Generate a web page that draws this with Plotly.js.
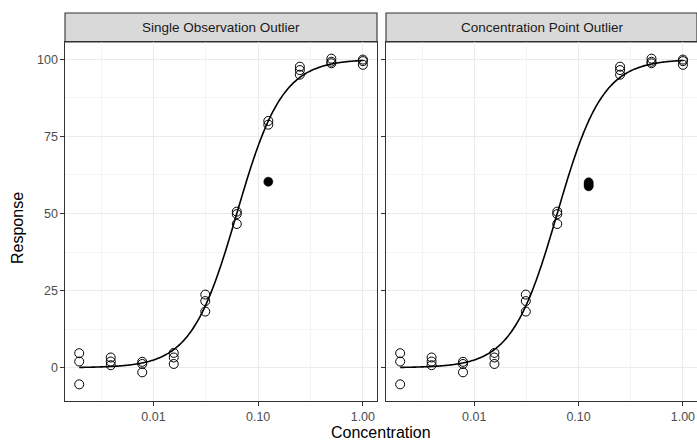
<!DOCTYPE html>
<html>
<head>
<meta charset="utf-8">
<script src="https://cdn.plot.ly/plotly-3.0.1.min.js"></script>
<style>html,body{margin:0;padding:0;background:#fff;} #chart{width:697px;height:441px;}</style>
</head>
<body>
<div id="chart"></div>
<script>
// ---- data ----
const panelTitles = ["Single Observation Outlier", "Concentration Point Outlier"];
const concentrations = [0.001953125, 0.00390625, 0.0078125, 0.015625, 0.03125, 0.0625, 0.125, 0.25, 0.5, 1];

// Single Observation Outlier panel: normal observations
const leftConc = [0.001953125,0.001953125,0.001953125, 0.00390625,0.00390625,0.00390625, 0.0078125,0.0078125,0.0078125, 0.015625,0.015625,0.015625, 0.03125,0.03125,0.03125, 0.0625,0.0625,0.0625, 0.125,0.125, 0.25,0.25,0.25, 0.5,0.5,0.5, 1,1,1];
const leftResp = [4.7,2.0,-5.4, 3.3,2.0,0.8, 1.9,1.2,-1.5, 4.8,3.3,1.2, 23.7,21.6,18.2, 50.6,49.8,46.6, 80.0,78.8, 97.6,96.5,95.0, 100.2,99.2,98.7, 99.9,99.4,98.2];
const leftOutConc = [0.125];
const leftOutResp = [60.3];

// Concentration Point Outlier panel: normal observations
const rightConc = [0.001953125,0.001953125,0.001953125, 0.00390625,0.00390625,0.00390625, 0.0078125,0.0078125,0.0078125, 0.015625,0.015625,0.015625, 0.03125,0.03125,0.03125, 0.0625,0.0625,0.0625, 0.25,0.25,0.25, 0.5,0.5,0.5, 1,1,1];
const rightResp = [4.7,2.0,-5.4, 3.3,2.0,0.8, 1.9,1.2,-1.5, 4.8,3.3,1.2, 23.7,21.6,18.2, 50.6,49.8,46.6, 97.6,96.5,95.0, 100.2,99.2,98.7, 99.9,99.4,98.2];
const rightOutConc = [0.125,0.125,0.125];
const rightOutResp = [60.1,59.4,58.8];

// fitted 4-parameter logistic model
const fitBottom = 0, fitTop = 100, fitEC50 = 0.0625, fitHill = 2;

const xTickVals = [0.01, 0.1, 1];
const xTickText = ["0.01", "0.10", "1.00"];
const yTickVals = [0, 25, 50, 75, 100];

// ---- model curve ----
const curveX = [], curveY = [];
const lo = Math.log10(concentrations[0]), hi = Math.log10(concentrations[concentrations.length-1]);
for (let i = 0; i <= 200; i++) {
  const x = Math.pow(10, lo + (hi - lo) * i / 200);
  curveX.push(x);
  curveY.push(fitBottom + (fitTop - fitBottom) / (1 + Math.pow(fitEC50 / x, fitHill)));
}

const W = 697, H = 441;
const px = v => v / W, py = v => 1 - v / H;
const FONT = "Liberation Sans, Arial, sans-serif";
const TICKCOL = "#4D4D4D";

function openTrace(x, y, xa, ya) {
  return {x, y, xaxis: xa, yaxis: ya, type: "scatter", mode: "markers", hoverinfo: "skip",
    marker: {symbol: "circle-open", size: 9, color: "#000", line: {width: 1, color: "#000"}}};
}
function fillTrace(x, y, xa, ya) {
  return {x, y, xaxis: xa, yaxis: ya, type: "scatter", mode: "markers", hoverinfo: "skip",
    marker: {symbol: "circle", size: 9, color: "#000", line: {width: 0.6, color: "#000"}}};
}
function curveTrace(xa, ya) {
  return {x: curveX, y: curveY, xaxis: xa, yaxis: ya, type: "scatter", mode: "lines", hoverinfo: "skip",
    line: {color: "#000", width: 1.6, shape: "spline"}};
}

const data = [
  openTrace(leftConc, leftResp, "x", "y"),
  fillTrace(leftOutConc, leftOutResp, "x", "y"),
  curveTrace("x", "y"),
  openTrace(rightConc, rightResp, "x2", "y2"),
  fillTrace(rightOutConc, rightOutResp, "x2", "y2"),
  curveTrace("x2", "y2")
];

const xr = [-2.845, 0.135];
const yr = [-10.8, 105.6];
const panelTop = 42, panelBottom = 401, stripTop = 13;
const L1 = 65, R1 = 377, L2 = 386, R2 = 697;

function xaxis(domain, anchor) {
  return {domain, anchor, type: "log", range: xr, tickmode: "array", tickvals: xTickVals, ticktext: xTickText,
    showgrid: true, gridcolor: "#EBEBEB", gridwidth: 1.1, zeroline: false,
    minor: {tickmode: "array", tickvals: [0.00316228, 0.0316228, 0.316228], showgrid: true, gridcolor: "#EBEBEB", gridwidth: 0.55, ticks: ""},
    showline: true, mirror: true, linecolor: "#333333", linewidth: 1.1,
    ticks: "outside", ticklen: 3.5, tickwidth: 1.1, tickcolor: "#333333",
    tickfont: {family: FONT, size: 12.5, color: TICKCOL}, fixedrange: true};
}
function yaxis(domain, anchor, showLabels) {
  return {domain, anchor, range: yr, tickmode: "array", tickvals: yTickVals, showticklabels: showLabels,
    showgrid: true, gridcolor: "#EBEBEB", gridwidth: 1.1, zeroline: false,
    minor: {tickmode: "linear", tick0: 12.5, dtick: 25, showgrid: true, gridcolor: "#EBEBEB", gridwidth: 0.55, ticks: ""},
    showline: true, mirror: true, linecolor: "#333333", linewidth: 1.1,
    ticks: "outside", ticklen: 3.5, tickwidth: 1.1, tickcolor: "#333333",
    tickfont: {family: FONT, size: 12.5, color: TICKCOL}, fixedrange: true};
}

const yDom = [py(panelBottom), py(panelTop)];
const layout = {
  width: W, height: H, margin: {l: 0, r: 0, t: 0, b: 0}, paper_bgcolor: "#fff", plot_bgcolor: "#fff",
  showlegend: false, font: {family: FONT, color: TICKCOL},
  xaxis: xaxis([px(L1), px(R1)], "y"),
  yaxis: yaxis(yDom, "x", true),
  xaxis2: xaxis([px(L2), px(R2)], "y2"),
  yaxis2: yaxis(yDom, "x2", false),
  shapes: [
    {type: "rect", xref: "paper", yref: "paper", x0: px(L1), x1: px(R1), y0: py(panelTop), y1: py(stripTop), fillcolor: "#D9D9D9", line: {color: "#333333", width: 1.1}, layer: "below"},
    {type: "rect", xref: "paper", yref: "paper", x0: px(L2), x1: px(R2), y0: py(panelTop), y1: py(stripTop), fillcolor: "#D9D9D9", line: {color: "#333333", width: 1.1}, layer: "below"}
  ],
  annotations: [
    {text: panelTitles[0], xref: "paper", yref: "paper", x: px((L1 + R1) / 2), y: py(27.5), showarrow: false, xanchor: "center", yanchor: "middle", font: {family: FONT, size: 13.5, color: "#1A1A1A"}},
    {text: panelTitles[1], xref: "paper", yref: "paper", x: px((L2 + 698) / 2), y: py(27.5), showarrow: false, xanchor: "center", yanchor: "middle", font: {family: FONT, size: 13.5, color: "#1A1A1A"}},
    {text: "Concentration", xref: "paper", yref: "paper", x: px(381), y: py(432), showarrow: false, xanchor: "center", yanchor: "middle", font: {family: FONT, size: 16, color: "#000"}},
    {text: "Response", xref: "paper", yref: "paper", x: px(17), y: py(228), showarrow: false, textangle: -90, xanchor: "center", yanchor: "middle", font: {family: FONT, size: 16, color: "#000"}}
  ]
};

Plotly.newPlot("chart", data, layout, {displayModeBar: false, staticPlot: true});
</script>
</body>
</html>
